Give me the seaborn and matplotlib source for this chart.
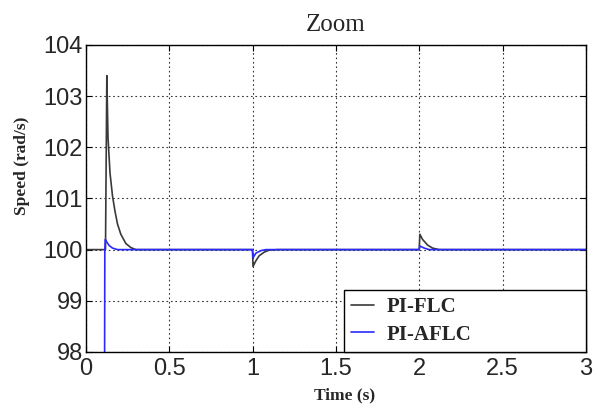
import numpy as np
import pandas as pd
import seaborn as sns
import matplotlib.pyplot as plt

# PI-FLC response
t_flc = [0.0, 0.118, 0.126, 0.133, 0.145, 0.16, 0.175, 0.19, 0.21, 0.24, 0.27, 0.30,
         1.0, 1.003, 1.02, 1.04, 1.07, 1.10, 1.15,
         2.0, 2.004, 2.02, 2.05, 2.08, 2.12, 3.0]
w_flc = [100.0, 100.0, 103.4, 102.2, 101.5, 101.05, 100.75, 100.5, 100.3, 100.12, 100.04, 100.0,
         100.0, 99.67, 99.78, 99.88, 99.95, 99.99, 100.0,
         100.0, 100.3, 100.2, 100.09, 100.03, 100.0, 100.0]

# PI-AFLC response
t_aflc = [0.0, 0.112, 0.114, 0.117, 0.125, 0.14, 0.16, 0.19,
          1.0, 1.003, 1.02, 1.05, 1.08,
          2.0, 2.004, 2.03, 2.06, 3.0]
w_aflc = [97.0, 97.0, 100.0, 100.2, 100.15, 100.08, 100.03, 100.0,
          100.0, 99.84, 99.93, 99.98, 100.0,
          100.0, 100.07, 100.03, 100.0, 100.0]

df = pd.concat([
    pd.DataFrame({"Time": t_flc, "Speed": w_flc, "Controller": "PI-FLC"}),
    pd.DataFrame({"Time": t_aflc, "Speed": w_aflc, "Controller": "PI-AFLC"}),
])

sns.set_style("ticks")
plt.rcParams['font.family'] = ['Liberation Sans', 'DejaVu Sans']

fig = plt.figure(figsize=(5.96, 4.05), dpi=100)
ax = fig.add_axes([0.144, 0.131, 0.839, 0.758])

sns.lineplot(data=df, x="Time", y="Speed", hue="Controller",
             palette={"PI-FLC": "#3a3a3a", "PI-AFLC": "#2a2aff"},
             linewidth=1.2, ax=ax, sort=False, estimator=None)

ax.set_xlim(0, 3)
ax.set_ylim(98, 104)
ax.set_xticks([0, 0.5, 1, 1.5, 2, 2.5, 3])
ax.set_xticklabels(["0", "0.5", "1", "1.5", "2", "2.5", "3"])
ax.set_yticks([98, 99, 100, 101, 102, 103, 104])
ax.tick_params(direction="in", labelsize=17, length=4, color="black", pad=2,
               top=True, right=True)
ax.tick_params(axis="x", pad=4)
ax.grid(True, linestyle=(0, (1.5, 2.5)), color="black", linewidth=0.8, alpha=0.8)
for s in ax.spines.values():
    s.set_color("black")
    s.set_linewidth(1.0)

ax.set_title("Zoom", family="Liberation Serif", fontsize=18, pad=10)
ax.set_xlabel("Time (s)", family="Liberation Serif", fontweight="bold", fontsize=12.5)
ax.set_ylabel("Speed (rad/s)", family="Liberation Serif", fontweight="bold", fontsize=12.5)
ax.xaxis.set_label_coords(0.518, -0.117)
ax.yaxis.set_label_coords(-0.112, 0.605)

leg = ax.legend(loc="lower left", bbox_to_anchor=(0.516, 0.0, 0.484, 0.2), mode="expand",
                frameon=True, fancybox=False, framealpha=1,
                edgecolor="black", borderaxespad=0,
                prop={"family": "Liberation Serif", "weight": "bold", "size": 15},
                handlelength=1.1, handletextpad=0.6, labelspacing=0.35, borderpad=0.35)
leg.get_frame().set_linewidth(1.0)
for line in leg.get_lines():
    line.set_linewidth(1.2)

fig.savefig("out.png", dpi=100)
